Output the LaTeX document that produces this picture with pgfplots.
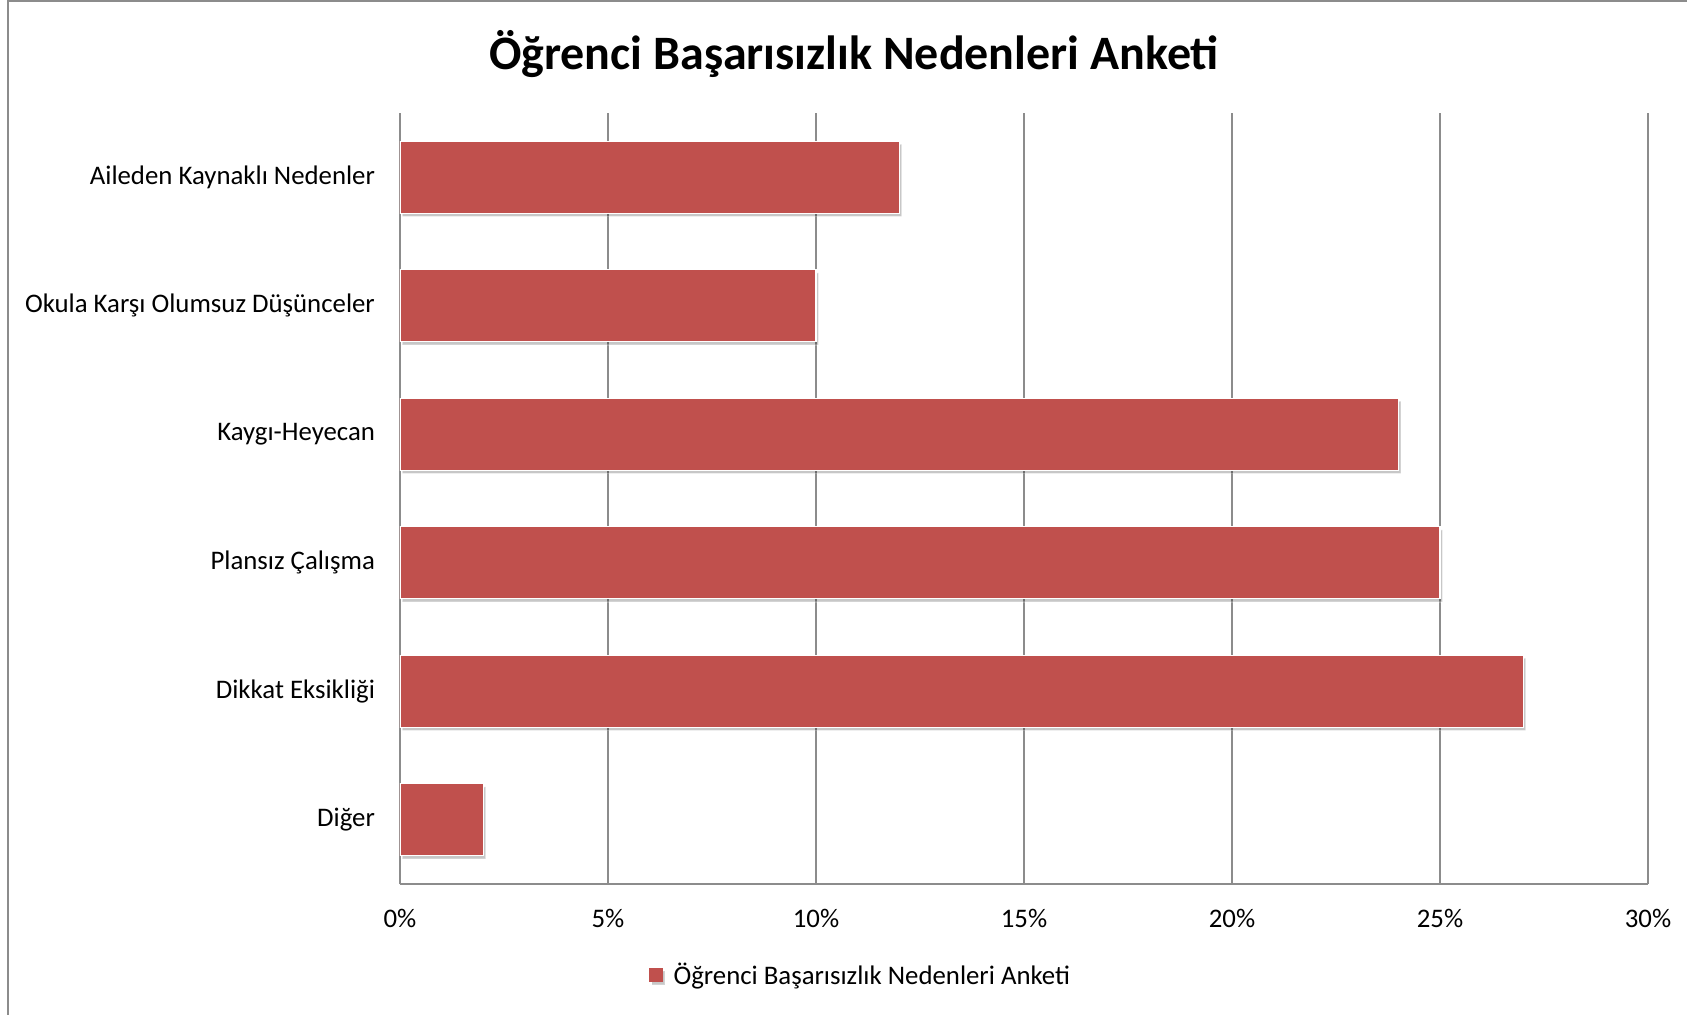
\documentclass[border=0pt]{standalone}
\usepackage{pgfplots}
\pgfplotsset{compat=1.18}
\usepackage{fontspec}
\setmainfont{Carlito}
\definecolor{barred}{HTML}{C0504D}
\definecolor{gridgray}{HTML}{8C8C8C}
\begin{document}
\begin{tikzpicture}
\useasboundingbox (-200pt,-65pt) rectangle (643.5pt,442pt);
\draw[gridgray, line width=1pt] (-196.15pt,-70pt) -- (-196.15pt,441.25pt) -- (650pt,441.25pt);
\begin{axis}[
  at={(0pt,0pt)}, anchor=south west,
  xbar, scale only axis, width=624pt, height=385.5pt,
  xmin=0, xmax=30, ymin=-0.5, ymax=5.5,
  xtick={0,5,...,30},
  xticklabel={\pgfmathprintnumber{\tick}\%},
  /pgf/number format/assume math mode=true,
  ytick={0,...,5},
  yticklabels={Diğer, Dikkat Eksikliği, Plansız Çalışma, Kaygı-Heyecan, Okula Karşı Olumsuz Düşünceler, Aileden Kaynaklı Nedenler},
  major tick length=0pt,
  xmajorgrids, grid style={gridgray, line width=1pt},
  axis x line*=bottom, axis y line*=left,
  axis line style={gridgray, line width=1pt, -},
  tick label style={font=\fontsize{13.4}{16}\selectfont, black},
  yticklabel style={xshift=-9pt},
  xticklabel style={yshift=-9pt},
  bar width=36pt,
  legend style={at={(0.370,-0.118)}, anchor=center, draw=none, font=\fontsize{13.4}{16}\selectfont,
    /tikz/every odd column/.append style={column sep=3.5pt}},
  legend image code/.code={\path[fill=barred, draw=none] (0pt,-3.4pt) rectangle (6.6pt,3.4pt);},
]
\addplot[fill=barred, draw=white, line width=0.6pt,
  preaction={fill=black, opacity=0.22, transform canvas={xshift=1.2pt, yshift=-1.6pt}}]
  coordinates {(2,0) (27,1) (25,2) (24,3) (10,4) (12,5)};
\addlegendentry{Öğrenci Başarısızlık Nedenleri Anketi}
\end{axis}
\node[font=\bfseries\fontsize{24}{28}\selectfont] at (227pt,415pt) {Öğrenci Başarısızlık Nedenleri Anketi};
\end{tikzpicture}
\end{document}
